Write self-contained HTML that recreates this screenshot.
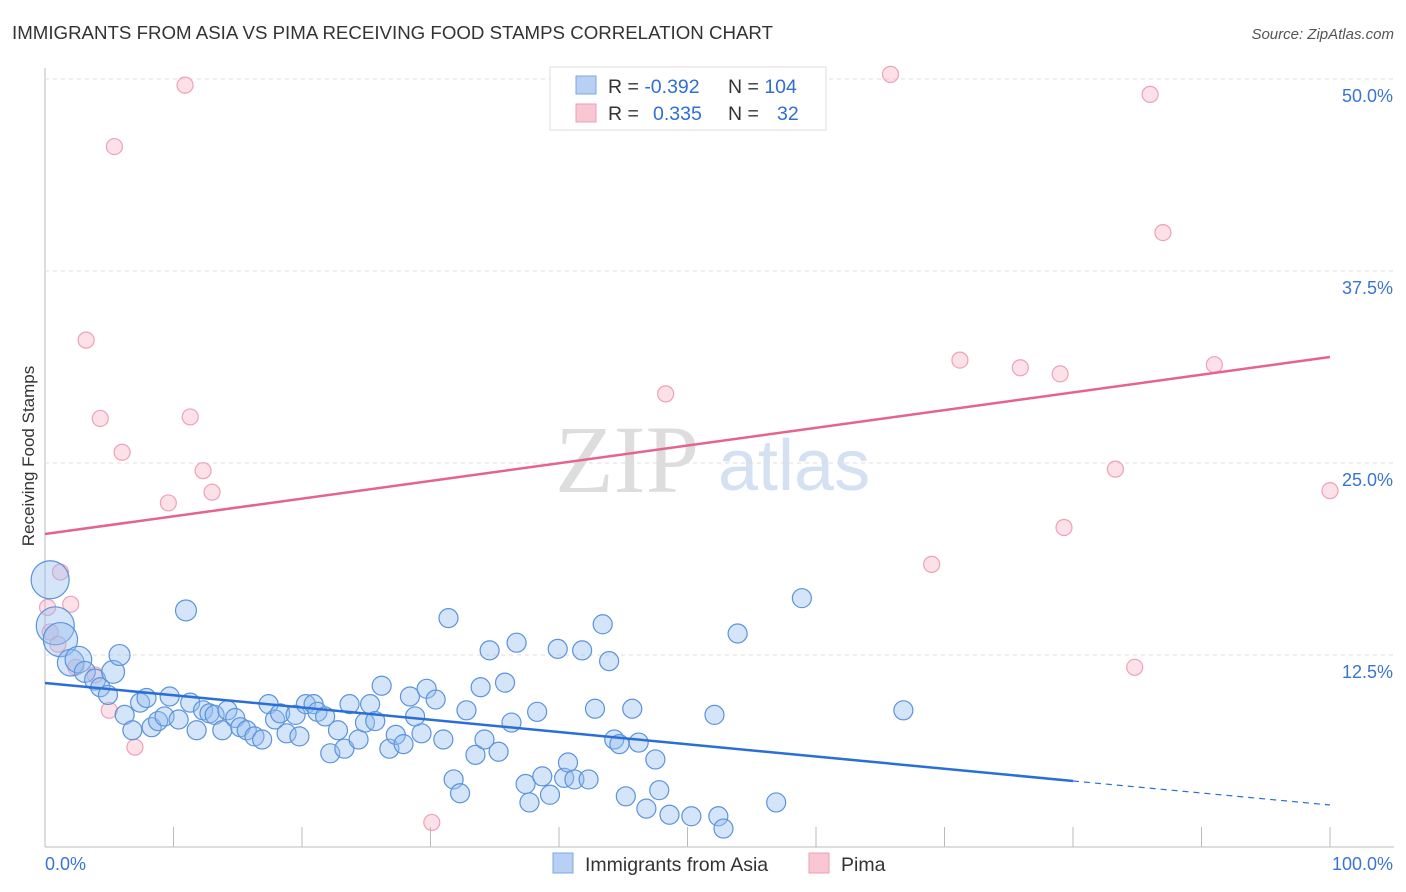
<!DOCTYPE html>
<html><head><meta charset="utf-8">
<style>
body{margin:0;background:#fff;font-family:"Liberation Sans",sans-serif;}
#c{position:absolute;left:0;top:0;}
</style></head>
<body>
<svg id="c" width="1406" height="892">
<text x="12" y="39" font-size="18.7" fill="#333" textLength="761">IMMIGRANTS FROM ASIA VS PIMA RECEIVING FOOD STAMPS CORRELATION CHART</text>
<text x="1394" y="39" font-size="15" fill="#555" font-style="italic" text-anchor="end">Source: ZipAtlas.com</text>
<text x="0" y="0" transform="translate(34,456) rotate(-90)" font-size="17" fill="#333" text-anchor="middle">Receiving Food Stamps</text>
<text x="555" y="492" font-size="96" fill="#ddd" font-family="Liberation Serif">ZIP</text>
<text x="718" y="490" font-size="72" fill="#d3e1f3">atlas</text>
<g id="grid"></g>
<g id="pts"></g>
<g id="trend"></g>
<g>
<rect x="550" y="67" width="276" height="63" fill="#fff" stroke="#ddd"/>
<rect x="576" y="76" width="20" height="18" fill="#b8d0f4" stroke="#7aa7e6"/>
<rect x="576" y="104" width="20" height="18" fill="#f9c6d3" stroke="#ef9fb5"/>
<text x="608" y="93" font-size="19.5" fill="#333">R = <tspan fill="#2f6fd4">-0.392</tspan></text>
<text x="728" y="93" font-size="19.5" fill="#333">N = <tspan fill="#2f6fd4">104</tspan></text>
<text x="608" y="120" font-size="19.5" fill="#333">R = <tspan fill="#2f6fd4" x="653">0.335</tspan></text>
<text x="728" y="120" font-size="19.5" fill="#333">N = <tspan fill="#2f6fd4" x="777">32</tspan></text>
</g>
<g>
<rect x="553" y="853" width="20" height="20" fill="#b8d0f4" stroke="#7aa7e6"/>
<text x="585" y="871" font-size="19.5" fill="#333">Immigrants from Asia</text>
<rect x="809" y="853" width="20" height="20" fill="#f9c6d3" stroke="#ef9fb5"/>
<text x="841" y="871" font-size="19.5" fill="#333">Pima</text>
</g>
</svg>
<script>
const yTicks=[12.5,25,37.5,50];
const yTickLabels=["12.5%","25.0%","37.5%","50.0%"];
const xLabels=["0.0%","100.0%"];
const asiaX=[0.4,0.8,1.2,2.0,2.6,3.1,3.9,4.3,4.9,5.3,5.8,6.2,6.8,7.4,7.9,8.3,8.8,9.3,9.7,10.4,10.97,11.3,11.8,12.3,12.8,13.2,13.8,14.2,14.8,15.2,15.7,16.3,16.9,17.4,17.9,18.3,18.8,19.5,19.8,20.3,20.9,21.2,21.8,22.2,22.8,23.3,23.7,24.4,24.9,25.3,25.7,26.2,26.8,27.3,27.9,28.4,28.8,29.3,29.7,30.4,31.0,31.4,31.8,32.3,32.8,33.5,33.9,34.2,34.6,35.3,35.8,36.3,36.7,37.4,37.7,38.3,38.7,39.3,39.9,40.4,40.7,41.2,41.8,42.3,42.8,43.4,43.9,44.3,44.7,45.2,45.7,46.2,46.8,47.5,47.8,48.6,50.3,52.1,52.4,52.8,53.9,56.9,58.9,66.8];
const asiaY=[17.4,14.4,13.5,12.0,12.2,11.4,10.9,10.4,9.9,11.4,12.5,8.6,7.6,9.4,9.7,7.8,8.2,8.5,9.8,8.3,15.4,9.4,7.6,8.9,8.7,8.6,7.6,8.9,8.4,7.8,7.6,7.2,7.0,9.3,8.3,8.7,7.4,8.6,7.2,9.3,9.3,8.8,8.5,6.1,7.6,6.4,9.3,7.0,8.1,9.3,8.2,10.5,6.4,7.3,6.7,9.8,8.5,7.4,10.3,9.6,7.0,14.9,4.4,3.5,8.9,6.0,10.4,7.0,12.8,6.2,10.7,8.1,13.3,4.1,2.9,8.8,4.6,3.4,12.9,4.5,5.5,4.4,12.8,4.4,9.0,14.5,12.1,7.0,6.7,3.3,9.0,6.8,2.5,5.7,3.7,2.1,2.0,8.6,2.0,1.2,13.9,2.9,16.2,8.9];
const asiaR=[20,20,18,14,14,11,11,10,10,12,11,10,10,10,10,10,10,10,10,10,11,10,10,10,10,10,10,10,10,10,10,10,10,10,10,10,10,10,10,10,10,10,10,10,10,10,10,10,10,10,10,10,10,10,10,10,10,10,10,10,10,10,10,10,10,10,10,10,10,10,10,10,10,10,10,10,10,10,10,10,10,10,10,10,10,10,10,10,10,10,10,10,10,10,10,10,10,10,10,10,10,10,10,10];
const pimaX=[0.2,0.4,1.2,2.0,3.2,4.3,5.0,5.4,6.0,7.0,9.6,10.9,11.3,12.3,13.0,30.1,48.3,65.8,69.0,71.2,75.9,79.0,79.3,83.3,84.8,86.0,87.0,91.0,100.0,1.0,2.4,3.9];
const pimaY=[15.6,14.0,17.9,15.8,33.0,27.9,8.9,45.6,25.7,6.5,22.4,49.6,28.0,24.5,23.1,1.6,29.5,50.3,18.4,31.7,31.2,30.8,20.8,24.6,11.7,49.0,40.0,31.4,23.2,13.2,11.7,11.2];
const X0=45,X1=1330,Y0=847,YS=192/12.5;
const sx=v=>X0+(X1-X0)*v/100, sy=v=>Y0-v*YS;
const NS="http://www.w3.org/2000/svg";
function mk(t,a,p){const e=document.createElementNS(NS,t);for(const k in a)e.setAttribute(k,a[k]);p.appendChild(e);return e;}
const g=document.getElementById('grid');
const ax=mk('line',{x1:45,y1:68,x2:45,y2:847,stroke:'#bbb'},g);


const bx=mk('line',{x1:45,y1:847,x2:1394,y2:847,stroke:'#bbb'},g);


yTicks.forEach((v,i)=>{
 const l=mk('line',{x1:45,y1:sy(v),x2:1394,y2:sy(v),stroke:'#ddd','stroke-dasharray':'4,4'},g);
 
 
 const t=mk('text',{x:1393,y:sy(v)+23,'font-size':18,fill:'#3a74d4','text-anchor':'end'},g);
 t.textContent=yTickLabels[i];
 
 
});
for(let i=1;i<=10;i++){
 const x=X0+(X1-X0)*i/10;
 const tk=mk('line',{x1:x,y1:827,x2:x,y2:847,stroke:'#bbb'},g);
 
 
}
const xl0=mk('text',{x:45,y:870,'font-size':18,fill:'#3a74d4'},g);xl0.textContent=xLabels[0];


const xl1=mk('text',{x:1393,y:870,'font-size':18,fill:'#3a74d4','text-anchor':'end'},g);xl1.textContent=xLabels[1];


const p=document.getElementById('pts');
pimaX.forEach((x,i)=>{
 const c=mk('circle',{cx:sx(x),cy:sy(pimaY[i]),r:8,fill:'rgba(246,170,192,0.35)',stroke:'#f0a0b8','stroke-width':1.2},p);
 
 
});
asiaX.forEach((x,i)=>{
 const c=mk('circle',{cx:sx(x),cy:sy(asiaY[i]),r:asiaR[i]*0.95,fill:'rgba(150,190,240,0.4)',stroke:'#5b93dc','stroke-width':1.2},p);
 
 
});
const tr=document.getElementById('trend');
const b1=mk('line',{x1:sx(0),y1:683,x2:sx(80),y2:781,stroke:'#2a6fd6','stroke-width':2.5},tr);


const b2=mk('line',{x1:sx(80),y1:781,x2:sx(100),y2:805,stroke:'#2a6fd6','stroke-width':1.2,'stroke-dasharray':'6,5'},tr);


const pl=mk('line',{x1:sx(0),y1:534,x2:sx(100),y2:357,stroke:'#e5638e','stroke-width':2.5},tr);


</script>
</body></html>
